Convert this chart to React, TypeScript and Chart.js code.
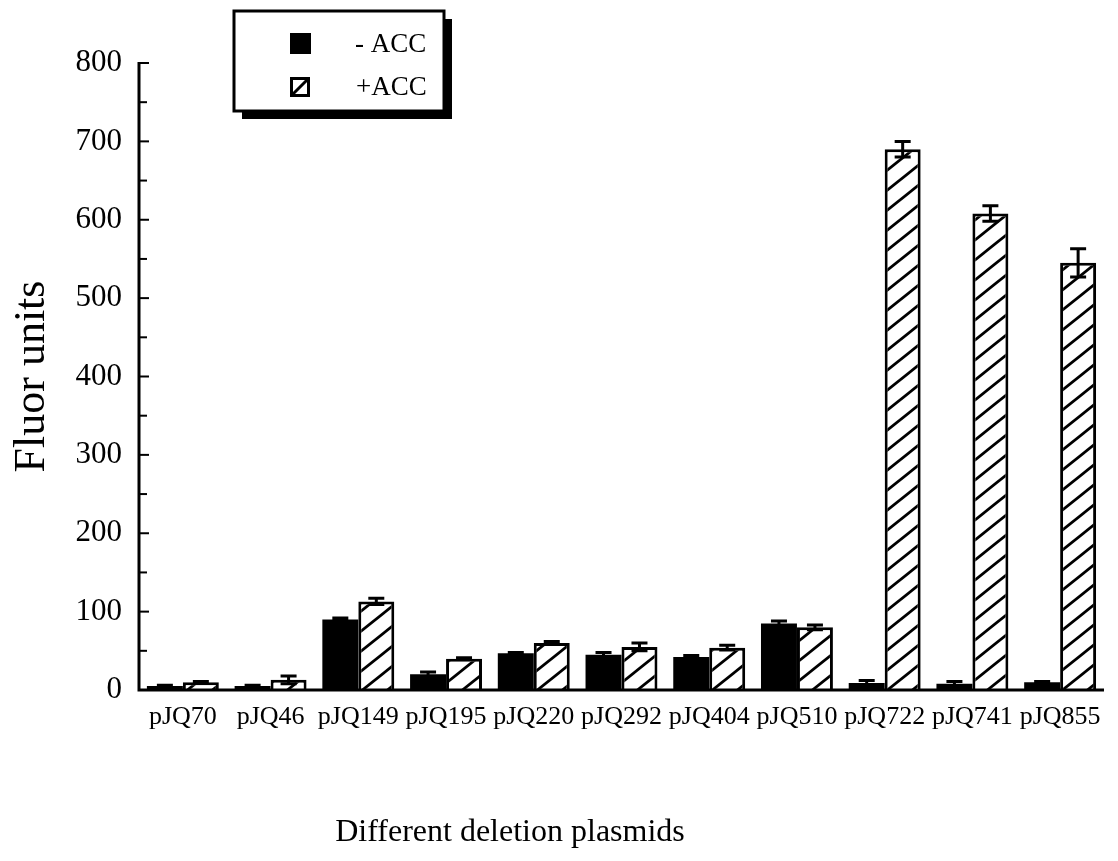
import React, { useEffect, useRef } from 'react';
import { Chart, registerables } from 'chart.js';

Chart.register(...registerables);

const categories = ['pJQ70', 'pJQ46', 'pJQ149', 'pJQ195', 'pJQ220', 'pJQ292', 'pJQ404', 'pJQ510', 'pJQ722', 'pJQ741', 'pJQ855'];
const minusAcc = [5, 5, 90, 20, 47, 45, 42, 85, 9, 8, 10];
const minusAccErr = [1, 1, 2, 3, 1, 3, 2, 3, 3, 3, 1];
const plusAcc = [10, 13, 113, 40, 60, 55, 54, 80, 690, 608, 545];
const plusAccErr = [1, 5, 4, 1, 2, 5, 3, 3, 10, 10, 18];
const yMin = 0;
const yMax = 800;
const yStep = 100;
const yMinorStep = 50;
const seriesNames = ['- ACC', '+ACC'];
const xTitle = 'Different deletion plasmids';
const yTitle = 'Fluor units';

const FONT = '"Liberation Serif", "Times New Roman", serif';

function makeHatch(): CanvasPattern | string {
  const W = 25;
  const H = 20;
  const c = document.createElement('canvas');
  c.width = W;
  c.height = H;
  const g = c.getContext('2d');
  if (!g) return '#fff';
  g.fillStyle = '#fff';
  g.fillRect(0, 0, W, H);
  g.strokeStyle = '#000';
  g.lineWidth = 2.8;
  g.lineCap = 'butt';
  const lines = [
    [-W, 2 * H, 2 * W, -H],
    [-2 * W, 2 * H, W, -H],
    [0, 2 * H, 3 * W, -H],
  ];
  for (const [x1, y1, x2, y2] of lines) {
    g.beginPath();
    g.moveTo(x1, y1);
    g.lineTo(x2, y2);
    g.stroke();
  }
  const p = g.createPattern(c, 'repeat');
  return p || '#fff';
}

const errors = [minusAccErr, plusAccErr];

const errorBarPlugin = {
  id: 'errorBars',
  afterDatasetsDraw(chart: any) {
    const ctx = chart.ctx;
    const y = chart.scales.y;
    ctx.save();
    ctx.strokeStyle = '#000';
    ctx.lineWidth = 3;
    chart.data.datasets.forEach((ds: any, di: number) => {
      const meta = chart.getDatasetMeta(di);
      meta.data.forEach((el: any, i: number) => {
        const v = ds.data[i];
        const e = errors[di][i];
        if (!e) return;
        const yt = y.getPixelForValue(v + e);
        const yb = y.getPixelForValue(v - e);
        const cap = 8;
        ctx.beginPath();
        ctx.moveTo(el.x, yt);
        ctx.lineTo(el.x, yb);
        ctx.moveTo(el.x - cap, yt);
        ctx.lineTo(el.x + cap, yt);
        ctx.moveTo(el.x - cap, yb);
        ctx.lineTo(el.x + cap, yb);
        ctx.stroke();
      });
    });
    ctx.restore();
  },
};

const axesPlugin = {
  id: 'customAxes',
  afterDraw(chart: any) {
    const ctx = chart.ctx;
    const { left, right, bottom, top } = chart.chartArea;
    const y = chart.scales.y;
    ctx.save();
    ctx.strokeStyle = '#000';
    ctx.lineWidth = 3;
    ctx.beginPath();
    ctx.moveTo(left, top - 1);
    ctx.lineTo(left, bottom + 1.5);
    ctx.moveTo(left - 1.5, bottom);
    ctx.lineTo(right, bottom);
    ctx.stroke();
    ctx.lineWidth = 2;
    for (let v = yMin; v <= yMax; v += yMinorStep) {
      const py = y.getPixelForValue(v);
      const major = v % yStep === 0;
      ctx.beginPath();
      ctx.moveTo(left, py);
      ctx.lineTo(left + (major ? 10 : 8), py);
      ctx.stroke();
    }
    ctx.fillStyle = '#000';
    ctx.font = `32px ${FONT}`;
    ctx.textAlign = 'center';
    ctx.textBaseline = 'middle';
    ctx.fillText(xTitle, 510, 833);
    ctx.restore();
  },
};

const legendPlugin = {
  id: 'boxLegend',
  afterDraw(chart: any) {
    const ctx = chart.ctx;
    const bx = 234, by = 11, bw = 210, bh = 100, sh = 8;
    ctx.save();
    ctx.fillStyle = '#000';
    ctx.fillRect(bx + sh, by + sh, bw, bh);
    ctx.fillStyle = '#fff';
    ctx.fillRect(bx, by, bw, bh);
    ctx.strokeStyle = '#000';
    ctx.lineWidth = 3;
    ctx.strokeRect(bx, by, bw, bh);
    ctx.fillStyle = '#000';
    ctx.fillRect(290, 33, 21, 21);
    ctx.lineWidth = 3;
    ctx.strokeRect(291.5, 78.5, 17, 17);
    ctx.beginPath();
    ctx.moveTo(292, 95);
    ctx.lineTo(308, 79);
    ctx.stroke();
    ctx.font = `27px ${FONT}`;
    ctx.textAlign = 'left';
    ctx.textBaseline = 'middle';
    ctx.fillText(seriesNames[0], 355, 45);
    ctx.fillText(seriesNames[1], 356, 88);
    ctx.restore();
  },
};

export default function App() {
  const ref = useRef<HTMLCanvasElement | null>(null);

  useEffect(() => {
    document.body.style.margin = '0';
    const canvas = ref.current;
    if (!canvas) return;
    const hatch = makeHatch();
    const chart = new Chart(canvas, {
      type: 'bar',
      data: {
        labels: categories,
        datasets: [
          {
            label: seriesNames[0],
            data: minusAcc,
            backgroundColor: '#000',
            borderColor: '#000',
            borderWidth: 0,
            categoryPercentage: 0.82,
            barPercentage: 1,
          },
          {
            label: seriesNames[1],
            data: plusAcc,
            backgroundColor: hatch as any,
            borderColor: '#000',
            borderWidth: 3,
            categoryPercentage: 0.82,
            barPercentage: 1,
          },
        ],
      },
      options: {
        animation: false,
        responsive: false,
        devicePixelRatio: 1,
        layout: { padding: { top: 63, right: 14, left: 0, bottom: 0 } },
        plugins: {
          legend: { display: false },
          tooltip: { enabled: false },
        },
        scales: {
          x: {
            grid: { display: false, drawTicks: false },
            border: { display: false },
            ticks: {
              color: '#000',
              font: { family: FONT, size: 26 },
              padding: 12,
              maxRotation: 0,
              minRotation: 0,
              autoSkip: false,
            },
            afterFit: (s: any) => {
              s.height = 171;
            },
          },
          y: {
            min: yMin,
            max: yMax,
            grid: { display: false, drawTicks: false },
            border: { display: false },
            ticks: {
              stepSize: yStep,
              color: '#000',
              font: { family: FONT, size: 31 },
              padding: 17,
            },
            title: {
              display: true,
              text: yTitle,
              color: '#000',
              font: { family: FONT, size: 44 },
              padding: { top: 6, bottom: 0 },
            },
            afterFit: (s: any) => {
              s.width = 139;
            },
          },
        },
      },
      plugins: [errorBarPlugin, axesPlugin, legendPlugin],
    });
    return () => chart.destroy();
  }, []);

  return (
    <div style={{ width: 1118, height: 861, background: '#fff' }}>
      <canvas ref={ref} width={1118} height={861} style={{ display: 'block' }} />
    </div>
  );
}
